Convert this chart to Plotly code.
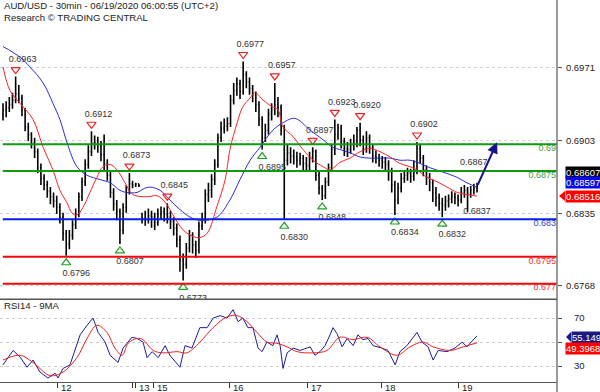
import plotly.graph_objects as go

# ---------------- data ----------------
bar_open = [0.6928,0.6932,0.6934,0.6937,0.6941,0.6947,0.6943,0.6932,0.6916,0.6909,
 0.6901,0.6893,0.6878,0.6868,0.6862,0.6856,0.6851,0.6847,0.6841,0.6832,
 0.6817,0.6807,0.6815,0.6825,0.6835,0.6851,0.6865,0.6881,0.6893,0.6901,
 0.6902,0.6898,0.6890,0.6882,0.6871,0.6855,0.6844,0.6837,0.6820,0.6841,
 0.6857,0.6863,0.6862,0.6863,0.6831,0.6831,0.6829,0.6833,0.6832,0.6827,
 0.6835,0.6837,0.6835,0.6832,0.6828,0.6822,0.6811,0.6792,0.6788,0.6803,
 0.6815,0.6806,0.6801,0.6824,0.6829,0.6853,0.6857,0.6867,0.6881,0.6906,
 0.6915,0.6917,0.6919,0.6941,0.6950,0.6956,0.6949,0.6965,0.6958,0.6952,
 0.6946,0.6937,0.6923,0.6906,0.6913,0.6928,0.6932,0.6937,0.6934,0.6915,
 0.6885,0.6892,0.6889,0.6888,0.6885,0.6887,0.6882,0.6880,0.6888,0.6893,
 0.6871,0.6859,0.6852,0.6865,0.6878,0.6895,0.6909,0.6915,0.6902,0.6896,
 0.6895,0.6899,0.6902,0.6913,0.6904,0.6896,0.6906,0.6897,0.6889,0.6887,
 0.6885,0.6883,0.6881,0.6874,0.6862,0.6848,0.6859,0.6868,0.6871,0.6873,
 0.6870,0.6874,0.6896,0.6887,0.6876,0.6869,0.6864,0.6855,0.6850,0.6845,
 0.6843,0.6847,0.6849,0.6851,0.6850,0.6848,0.6855,0.6857,0.6854,0.6857,
 0.6859]
bar_close = [0.6932,0.6934,0.6937,0.6941,0.6947,0.6943,0.6932,0.6916,0.6909,0.6901,
 0.6893,0.6878,0.6868,0.6862,0.6856,0.6851,0.6847,0.6841,0.6832,0.6817,
 0.6807,0.6815,0.6825,0.6835,0.6851,0.6865,0.6881,0.6893,0.6901,0.6902,
 0.6898,0.6890,0.6882,0.6871,0.6855,0.6844,0.6837,0.6820,0.6841,0.6857,
 0.6863,0.6862,0.6863,0.6861,0.6831,0.6829,0.6833,0.6832,0.6827,0.6835,
 0.6837,0.6835,0.6832,0.6828,0.6822,0.6811,0.6792,0.6788,0.6803,0.6815,
 0.6806,0.6801,0.6824,0.6829,0.6853,0.6857,0.6867,0.6881,0.6906,0.6915,
 0.6917,0.6919,0.6941,0.6950,0.6956,0.6949,0.6965,0.6958,0.6952,0.6946,
 0.6937,0.6923,0.6906,0.6913,0.6928,0.6932,0.6937,0.6934,0.6915,0.6885,
 0.6892,0.6889,0.6888,0.6885,0.6887,0.6882,0.6880,0.6888,0.6893,0.6871,
 0.6859,0.6852,0.6865,0.6878,0.6895,0.6909,0.6915,0.6902,0.6896,0.6895,
 0.6899,0.6902,0.6913,0.6904,0.6896,0.6906,0.6897,0.6889,0.6887,0.6885,
 0.6883,0.6881,0.6874,0.6862,0.6848,0.6859,0.6868,0.6871,0.6873,0.6870,
 0.6874,0.6896,0.6887,0.6876,0.6869,0.6864,0.6855,0.6850,0.6845,0.6843,
 0.6847,0.6849,0.6851,0.6850,0.6848,0.6855,0.6857,0.6854,0.6857,0.6859,
 0.68607]
bar_high = [0.6938,0.6940,0.6944,0.6948,0.6963,0.6955,0.6946,0.6934,0.6920,0.6911,
 0.6906,0.6896,0.6882,0.6872,0.6866,0.6860,0.6855,0.6852,0.6845,0.6836,
 0.6820,0.6820,0.6829,0.6840,0.6855,0.6869,0.6886,0.6899,0.6912,0.6908,
 0.6907,0.6903,0.6909,0.6886,0.6874,0.6859,0.6848,0.6840,0.6845,0.6862,
 0.6873,0.6866,0.6864,0.6863,0.6836,0.6838,0.6840,0.6838,0.6836,0.6840,
 0.6842,0.6841,0.6845,0.6838,0.6832,0.6826,0.6815,0.6798,0.6808,0.6820,
 0.6818,0.6810,0.6828,0.6836,0.6858,0.6864,0.6872,0.6886,0.6910,0.6921,
 0.6924,0.6925,0.6946,0.6957,0.6962,0.6960,0.6977,0.6968,0.6962,0.6955,
 0.6949,0.6940,0.6926,0.6919,0.6933,0.6938,0.6957,0.6944,0.6937,0.6918,
 0.6900,0.6897,0.6895,0.6893,0.6892,0.6890,0.6888,0.6893,0.6897,0.6895,
 0.6874,0.6862,0.6869,0.6882,0.6900,0.6923,0.6919,0.6918,0.6906,0.6902,
 0.6905,0.6909,0.6916,0.6920,0.6908,0.6912,0.6909,0.6900,0.6894,0.6891,
 0.6889,0.6888,0.6885,0.6878,0.6866,0.6864,0.6873,0.6876,0.6878,0.6877,
 0.6885,0.6902,0.6900,0.6890,0.6880,0.6873,0.6867,0.6860,0.6854,0.6850,
 0.6852,0.6853,0.6856,0.6855,0.6853,0.6860,0.6862,0.6860,0.6861,0.6863,
 0.6864]
bar_low = [0.6922,0.6925,0.6930,0.6933,0.6938,0.6938,0.6926,0.6912,0.6903,0.6896,
 0.6887,0.6873,0.6862,0.6857,0.6850,0.6844,0.6841,0.6835,0.6826,0.6810,
 0.6796,0.6802,0.6811,0.6821,0.6832,0.6847,0.6861,0.6877,0.6889,0.6895,
 0.6892,0.6884,0.6876,0.6866,0.6850,0.6838,0.6829,0.6807,0.6816,0.6836,
 0.6853,0.6859,0.6860,0.6860,0.6826,0.6824,0.6826,0.6822,0.6820,0.6824,
 0.6830,0.6828,0.6826,0.6821,0.6815,0.6804,0.6781,0.6773,0.6784,0.6799,
 0.6798,0.6794,0.6798,0.6820,0.6826,0.6846,0.6850,0.6862,0.6878,0.6902,
 0.6910,0.6912,0.6916,0.6937,0.6945,0.6942,0.6946,0.6952,0.6946,0.6939,
 0.6930,0.6917,0.6895,0.6902,0.6909,0.6922,0.6927,0.6925,0.6908,0.6830,
 0.6880,0.6882,0.6881,0.6878,0.6880,0.6875,0.6874,0.6876,0.6883,0.6866,
 0.6853,0.6848,0.6849,0.6861,0.6875,0.6890,0.6904,0.6896,0.6889,0.6888,
 0.6891,0.6894,0.6897,0.6898,0.6890,0.6892,0.6891,0.6883,0.6882,0.6879,
 0.6877,0.6874,0.6866,0.6855,0.6834,0.6844,0.6855,0.6864,0.6866,0.6864,
 0.6866,0.6872,0.6882,0.6870,0.6862,0.6856,0.6846,0.6842,0.6838,0.6832,
 0.6838,0.6841,0.6845,0.6844,0.6842,0.6845,0.6850,0.6837,0.6850,0.6853,
 0.6855]

# fast (red) and slow (blue) moving averages, sampled at bar positions
red_ma_x = [0.0,2.2,5.4,9.5,12.7,15.8,18.0,20.3,21.8,23.4,25.3,27.5,29.7,31.6,33.9,36.1,38.6,41.1,
            45.6,48.7,51.3,53.8,57.0,60.1,62.3,64.6,67.7,70.3,71.8,74.1,75.9,78.2,79.7,82.3,85.1,
            87.0,88.6,91.8,94.9,98.1,101.3,103.5,106.6,109.8,113.0,116.1,119.3,122.5,125.6,128.8,
            131.0,134.2,137.3,140.5,143.7,146.8,150.0]
red_ma_y = [0.6972,0.6950,0.6938,0.6923,0.6897,0.6876,0.6857,0.6845,0.6836,0.6834,0.6841,0.6855,
            0.6869,0.6879,0.6881,0.6876,0.6864,0.6853,0.6851,0.6852,0.6846,0.6834,0.6820,0.6814,
            0.6813,0.6817,0.6842,0.6867,0.6895,0.6920,0.6935,0.6943,0.6948,0.6941,0.6935,0.6932,
            0.6916,0.6907,0.6895,0.6885,0.6879,0.6876,0.6883,0.6887,0.6893,0.6896,0.6893,0.6888,
            0.6882,0.6879,0.6876,0.6869,0.6865,0.6860,0.6855,0.6853,0.68516]
blue_ma_x = [0.0,5.4,8.5,12.7,15.8,18.0,20.3,23.4,26.6,30.7,33.9,37.0,39.2,42.4,44.9,46.5,49.7,
             52.8,56.0,59.2,62.3,67.7,71.8,75.0,78.2,81.3,85.4,88.6,92.4,97.2,101.3,104.4,106.6,
             109.8,113.0,116.1,119.3,122.5,125.6,128.8,132.0,135.1,139.2,143.7,146.8,150.0]
blue_ma_y = [0.6991,0.6981,0.6972,0.6957,0.6938,0.6923,0.6901,0.6879,0.6871,0.6867,0.6864,0.6857,
             0.6855,0.6855,0.6859,0.6860,0.6857,0.6848,0.6839,0.6832,0.6829,0.6832,0.6848,0.6867,
             0.6885,0.6897,0.6913,0.6920,0.6924,0.6913,0.6904,0.6897,0.6895,0.6892,0.6888,0.6887,
             0.6887,0.6887,0.6885,0.6885,0.6882,0.6878,0.6874,0.6869,0.6864,0.68597]

# RSI(14) and its 9-period MA
rsi_x = [0.0,3.2,5.4,7.6,9.5,11.7,14.2,16.5,17.4,19.0,21.2,24.4,26.6,28.5,30.1,32.3,33.9,36.4,38.0,
         40.8,42.4,44.3,45.6,47.2,49.1,51.3,52.8,56.0,57.6,59.8,62.3,64.6,66.5,68.7,70.9,72.8,74.4,
         75.9,77.5,79.1,80.7,82.0,83.5,85.4,86.7,87.7,88.6,89.9,91.8,94.0,97.2,98.7,100.3,101.9,
         103.5,104.4,105.7,107.3,108.9,110.8,112.3,113.9,115.5,117.1,119.9,121.8,124.1,125.6,127.8,
         129.7,131.0,132.6,134.5,136.1,137.7,140.5,143.0,145.3,146.8,147.8,150.0]
rsi_y = [31,43,37.5,29,35,25,20,24,20,28,31,56,64,70,58,50,39,33,45,54,53,50,37,42,37,47,39,29,47,
         45,62,62,70,72,70,77,67,70,62,62,45,42,50,47,56,47,28,41,45,43,46,39,42,47,56,62,57,46,53,
         47,56,52,53,47,45,43,31,42,47,53,58,50,46,35,43,42,45,50,46,49,55.149]
rsi_ma_x = [0.0,5.4,9.5,14.9,19.0,23.4,26.6,29.7,32.9,35.4,37.7,39.6,42.4,44.3,47.5,50.6,55.1,58.2,
            62.3,66.5,70.9,74.1,77.2,80.4,83.5,86.7,89.9,93.0,98.1,102.5,106.6,110.8,115.2,119.3,
            124.7,128.8,132.9,136.1,141.5,145.6,150.0]
rsi_ma_y = [35,39,33,22,25,37,53,64,58,45,39,49,53,52,43,41,42,41,50,62,71,72,67,58,50,49,46,42,41,
            43,54,52,54,46,39,46,50,46,43,46,49.3968]

# pivot highs / lows (bar index, value)
hi_idx = [4, 28, 40, 52, 76, 86, 98, 105, 113, 131]
hi_val = [0.6963, 0.6912, 0.6873, 0.6845, 0.6977, 0.6957, 0.6897, 0.6923, 0.6920, 0.6902]
lo_idx = [20, 37, 57, 82, 89, 101, 124, 139]
lo_val = [0.6796, 0.6807, 0.6773, 0.6895, 0.6830, 0.6848, 0.6834, 0.6832]
note_hi_idx, note_hi_val = 148, 0.6867
note_lo_idx, note_lo_val = 150, 0.6837

# support / resistance levels
levels = [0.69, 0.6875, 0.683, 0.6795, 0.677]
level_colors = ["#109a10", "#109a10", "#0a1ee6", "#ee0a0a", "#ee0a0a"]
level_text_colors = ["#44a044", "#44a044", "#3344cc", "#ee3333", "#ee3333"]

price_ticks = [0.6971, 0.6903, 0.6835, 0.6768]
day_tick_idx = [17.4, 41.1, 41.8, 47.5, 71.8, 96.2, 119.9, 144.0]
day_tick_text = ["12", "", "13", "15", "16", "17", "18", "19"]

# ---------------- figure ----------------
Y_MIN, Y_MAX = 0.67558, 0.70343
X_MIN, X_MAX = -0.95, 175.3
PPX = (Y_MAX - Y_MIN) / 299.0     # price per pixel (main panel)
BPX = (X_MAX - X_MIN) / 557.0     # bars per pixel
FONT = "Liberation Sans, Arial, sans-serif"
N = len(bar_close)
bar_x = list(range(N))

fig = go.Figure()

# pivot labels (drawn first so bars cover them where they overlap)
fig.add_trace(go.Scatter(
    x=[i + 7 * BPX for i in hi_idx] + [note_hi_idx + 3 * BPX],
    y=[v + 17 * PPX for v in hi_val] + [note_hi_val + 17 * PPX],
    text=[f"{v:.4f}" for v in hi_val] + [f"{note_hi_val:.4f}"],
    mode="text", textfont=dict(size=9, color="#333333", family=FONT),
    cliponaxis=True, hoverinfo="skip"))
fig.add_trace(go.Scatter(
    x=[i + 10 * BPX for i in lo_idx] + [note_lo_idx],
    y=[v - 18 * PPX for v in lo_val] + [note_lo_val],
    text=[f"{v:.4f}" for v in lo_val] + [f"{note_lo_val:.4f}"],
    mode="text", textfont=dict(size=9, color="#333333", family=FONT),
    cliponaxis=True, hoverinfo="skip"))

fig.add_trace(go.Ohlc(
    x=bar_x, open=bar_open, high=bar_high, low=bar_low, close=bar_close,
    increasing=dict(line=dict(color="black", width=1.6)),
    decreasing=dict(line=dict(color="black", width=1.6)),
    tickwidth=0.3, hoverinfo="skip"))

fig.add_trace(go.Scatter(x=blue_ma_x, y=blue_ma_y, mode="lines",
                         line=dict(color="#2b2bd6", width=1, shape="spline"), hoverinfo="skip"))
fig.add_trace(go.Scatter(x=red_ma_x, y=red_ma_y, mode="lines",
                         line=dict(color="#ff2222", width=1, shape="spline"), hoverinfo="skip"))

# triangles
fig.add_trace(go.Scatter(
    x=hi_idx, y=[v + 7 * PPX for v in hi_val], mode="markers",
    marker=dict(symbol="triangle-down-open", size=8, color="#ee2222", line=dict(width=1.2)),
    cliponaxis=True, hoverinfo="skip"))
fig.add_trace(go.Scatter(
    x=lo_idx, y=[v - 7 * PPX for v in lo_val], mode="markers",
    marker=dict(symbol="triangle-up-open", size=8, color="#22a022", line=dict(width=1.2)),
    cliponaxis=True, hoverinfo="skip"))

# level labels at right edge
fig.add_trace(go.Scatter(
    x=[X_MAX - 1 * BPX] * len(levels), y=levels, text=[f"{v:g}" for v in levels],
    mode="text", textposition="bottom left",
    textfont=dict(size=9, color=level_text_colors, family=FONT),
    cliponaxis=True, hoverinfo="skip"))

# RSI panel
fig.add_trace(go.Scatter(x=rsi_x, y=rsi_y, mode="lines", xaxis="x", yaxis="y2",
                         line=dict(color="#1c1c9c", width=1), hoverinfo="skip"))
fig.add_trace(go.Scatter(x=rsi_ma_x, y=rsi_ma_y, mode="lines", xaxis="x", yaxis="y2",
                         line=dict(color="#ee2222", width=1, shape="spline"), hoverinfo="skip"))

shapes = []
for v, c in zip(levels, level_colors):
    shapes.append(dict(type="line", xref="paper", yref="y", x0=0.005, x1=1, y0=v, y1=v,
                       line=dict(color=c, width=2), layer="above"))
# frame lines
shapes.append(dict(type="line", xref="paper", yref="paper", x0=1, x1=1, y0=-0.03, y1=1,
                   line=dict(color="#777777", width=1.5)))
shapes.append(dict(type="line", xref="paper", yref="paper", x0=0, x1=1, y0=0.2163, y1=0.2163,
                   line=dict(color="#555555", width=1.5)))


def pxp(px, py):
    return px / 557.0, (382.0 - py) / 382.0


def pointer(tip_px, py, base_px, color):
    x0, y0 = pxp(tip_px, py)
    x1, _ = pxp(base_px, py)
    h = 5.0 / 382.0
    return dict(type="path", xref="paper", yref="paper",
                path=f"M {x0},{y0} L {x1},{y0 + h} L {x1},{y0 - h} Z",
                fillcolor=color, line=dict(color=color, width=0))


shapes.append(pointer(559, 196, 565, "#ff0000"))
shapes.append(pointer(566, 337, 571, "#1a1a80"))

annotations = []


def box(text, px, py, bg):
    x, y = pxp(px, py)
    annotations.append(dict(text=text, xref="paper", yref="paper", x=x, y=y, xanchor="left",
                            yanchor="middle", showarrow=False, bgcolor=bg, borderpad=0,
                            font=dict(size=9.5, color="white", family=FONT)))


box(f"{bar_close[-1]:.5f}", 565, 172.5, "#000000")
box(f"{blue_ma_y[-1]:.5f}", 565, 182.5, "#0a0ae6")
box(f"{red_ma_y[-1]:.5f}", 565, 196, "#ff0000")
box(f"{rsi_y[-1]:.3f}", 571, 337, "#1a1a80")
box(f"{rsi_ma_y[-1]:.4f}", 565, 348, "#ff0000")

# title
for txt, py in [("AUD/USD - 30min - 06/19/2020 06:00:55 (UTC+2)", 6),
                ("Research © TRADING CENTRAL", 18), ("RSI14 - 9MA", 305)]:
    x, y = pxp(2, py)
    annotations.append(dict(text=txt, xref="paper", yref="paper", x=x, y=y, xanchor="left",
                            yanchor="middle", showarrow=False,
                            font=dict(size=9.6, color="#222222", family=FONT)))

# day labels
for t, lab in zip(day_tick_idx, day_tick_text):
    if lab:
        annotations.append(dict(text=lab, xref="x", yref="paper", x=t + 1.5 * BPX,
                                y=(382.0 - 387.5) / 382.0, xanchor="left", yanchor="middle",
                                showarrow=False, font=dict(size=9.5, color="#222222", family=FONT)))

# projection arrow
annotations.append(dict(xref="x", yref="y", axref="x", ayref="y",
                        x=N - 1 + 20 * BPX, y=levels[0] + 2 * PPX,
                        ax=N - 1, ay=bar_close[-1],
                        showarrow=True, arrowhead=2, arrowsize=1.1, arrowwidth=2,
                        arrowcolor="#14148c", text=""))

fig.update_layout(
    width=600, height=392, margin=dict(l=0, r=43, t=0, b=10),
    paper_bgcolor="white", plot_bgcolor="white", showlegend=False, hovermode=False,
    shapes=shapes, annotations=annotations,
    xaxis=dict(range=[X_MIN, X_MAX], anchor="y2", showgrid=False, zeroline=False,
               rangeslider=dict(visible=False), tickmode="array", tickvals=day_tick_idx,
               ticks="outside", ticklen=5, tickcolor="#333333", showticklabels=False,
               showline=True, linecolor="#555555", linewidth=1),
    yaxis=dict(domain=[0.2175, 1], range=[Y_MIN, Y_MAX], side="right", anchor="x",
               tickmode="array", tickvals=price_ticks, ticktext=[f"{v:.4f}" for v in price_ticks],
               ticks="outside", ticklen=4, tickcolor="#555555", ticklabelstandoff=2,
               showgrid=True, gridcolor="#cfcfcf", griddash="dot", gridwidth=1, zeroline=False,
               tickfont=dict(size=9.5, color="#222222", family=FONT)),
    yaxis2=dict(domain=[0, 0.2145], range=[16.7, 85], side="right", anchor="x",
                tickmode="array", tickvals=[30, 50, 70], ticktext=["30", "", "70"],
                ticks="outside", ticklen=4, tickcolor="#555555", ticklabelstandoff=10,
                showgrid=True, gridcolor="#cfcfcf", griddash="dot", gridwidth=1, zeroline=False,
                tickfont=dict(size=9.5, color="#222222", family=FONT)),
)

fig.write_html("out.html", config={"displayModeBar": False},
               post_script="document.body.style.margin='0px';")
